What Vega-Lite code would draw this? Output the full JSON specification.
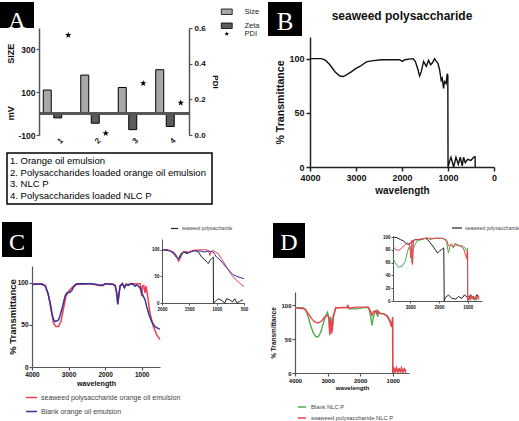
{
"$schema": "https://vega.github.io/schema/vega-lite/v6.json",
"autosize": {"type": "pad"},
"padding": 0,
"background": "white",
"config": {
 "font": "Liberation Sans",
 "view": {"stroke": null},
 "axis": {"grid": false, "labelFontWeight": "bold", "titleFontWeight": "bold", "labelColor": "#111", "titleColor": "#111", "domainColor": "#555", "tickColor": "#555", "labelFlush": false, "labelOverlap": false, "domainWidth": 1.2, "tickWidth": 1.2},
 "legend": {"padding": 0, "labelColor": "#333"},
 "title": {"font": "Liberation Sans", "fontWeight": "bold", "color": "#111"}
},
"datasets": {
 "seaweedB": [{"x":4000,"y":100},{"x":3747,"y":100},{"x":3660,"y":98.4},{"x":3567,"y":94.4},{"x":3458,"y":88},{"x":3350,"y":84},{"x":3278,"y":83.5},{"x":3206,"y":85},{"x":3097,"y":88},{"x":3000,"y":91},{"x":2917,"y":92.8},{"x":2773,"y":97},{"x":2664,"y":98},{"x":2448,"y":99},{"x":2231,"y":99},{"x":2051,"y":99},{"x":1993,"y":97.5},{"x":1942,"y":99},{"x":1762,"y":100},{"x":1711,"y":97.5},{"x":1653,"y":90},{"x":1617,"y":84},{"x":1581,"y":88},{"x":1531,"y":97.5},{"x":1473,"y":93},{"x":1422,"y":98.4},{"x":1379,"y":94.4},{"x":1343,"y":96},{"x":1292,"y":100},{"x":1256,"y":97.5},{"x":1220,"y":96},{"x":1184,"y":90},{"x":1148,"y":80},{"x":1126,"y":82},{"x":1097,"y":72.6},{"x":1076,"y":79},{"x":1040,"y":77},{"x":1018,"y":86},{"x":1004,"y":84.5},{"x":999,"y":0},{"x":968,"y":5},{"x":935,"y":9},{"x":877,"y":0},{"x":827,"y":9},{"x":776,"y":2.5},{"x":733,"y":9},{"x":690,"y":1},{"x":661,"y":9},{"x":624,"y":4},{"x":574,"y":7},{"x":502,"y":6},{"x":444,"y":9},{"x":412,"y":9.5},{"x":408,"y":0}],
 "cRed": [{"x":4000,"y":99},{"x":3800,"y":98.5},{"x":3636,"y":97},{"x":3545,"y":84},{"x":3473,"y":66},{"x":3409,"y":52},{"x":3345,"y":48},{"x":3273,"y":48},{"x":3209,"y":54},{"x":3136,"y":70},{"x":3073,"y":84},{"x":3000,"y":90},{"x":2909,"y":94},{"x":2818,"y":98},{"x":2364,"y":99},{"x":2182,"y":96.8},{"x":2045,"y":96.8},{"x":2000,"y":99},{"x":1800,"y":98.5},{"x":1727,"y":97},{"x":1682,"y":86},{"x":1655,"y":74},{"x":1627,"y":86},{"x":1591,"y":97},{"x":1527,"y":99},{"x":1473,"y":95},{"x":1427,"y":98.5},{"x":1364,"y":98},{"x":1291,"y":99},{"x":1136,"y":99},{"x":1045,"y":99},{"x":1018,"y":92},{"x":1000,"y":84},{"x":982,"y":96},{"x":945,"y":97},{"x":909,"y":88},{"x":882,"y":96},{"x":836,"y":84},{"x":773,"y":64},{"x":682,"y":48},{"x":591,"y":38.5},{"x":500,"y":32.5}],
 "cBlue": [{"x":4000,"y":98},{"x":3727,"y":98.8},{"x":3636,"y":96},{"x":3564,"y":88},{"x":3500,"y":76},{"x":3455,"y":64},{"x":3409,"y":56},{"x":3364,"y":54},{"x":3273,"y":56},{"x":3227,"y":62},{"x":3164,"y":72},{"x":3091,"y":85},{"x":3045,"y":88},{"x":2955,"y":89},{"x":2909,"y":91},{"x":2864,"y":95},{"x":2773,"y":99},{"x":2364,"y":99},{"x":2182,"y":97.6},{"x":2091,"y":97},{"x":2000,"y":99},{"x":1800,"y":98.4},{"x":1727,"y":96.8},{"x":1682,"y":88},{"x":1655,"y":75},{"x":1627,"y":84},{"x":1591,"y":96},{"x":1527,"y":99},{"x":1473,"y":94},{"x":1427,"y":98},{"x":1364,"y":97},{"x":1291,"y":99},{"x":1227,"y":98},{"x":1182,"y":96},{"x":1136,"y":97.6},{"x":1091,"y":96},{"x":1045,"y":94},{"x":1000,"y":88},{"x":955,"y":84},{"x":909,"y":80},{"x":864,"y":72},{"x":800,"y":62},{"x":727,"y":54},{"x":636,"y":48},{"x":545,"y":45.6},{"x":500,"y":45}],
 "ciBlack": [{"x":2000,"y":100},{"x":1909,"y":100},{"x":1849,"y":97.5},{"x":1788,"y":92.5},{"x":1740,"y":86},{"x":1697,"y":83},{"x":1655,"y":92.5},{"x":1607,"y":95.6},{"x":1546,"y":92.5},{"x":1486,"y":95.6},{"x":1395,"y":98.8},{"x":1335,"y":95.6},{"x":1274,"y":86},{"x":1232,"y":83},{"x":1183,"y":77},{"x":1153,"y":74},{"x":1123,"y":80},{"x":1093,"y":83},{"x":1062,"y":86},{"x":1058,"y":0},{"x":1002,"y":5},{"x":972,"y":8},{"x":911,"y":5},{"x":850,"y":0},{"x":820,"y":8},{"x":760,"y":6},{"x":711,"y":2},{"x":669,"y":8},{"x":627,"y":0},{"x":578,"y":3},{"x":518,"y":6}],
 "ciRed": [{"x":2000,"y":100},{"x":1879,"y":99},{"x":1788,"y":96},{"x":1728,"y":86},{"x":1697,"y":77},{"x":1667,"y":83},{"x":1607,"y":97.5},{"x":1516,"y":95.6},{"x":1425,"y":99},{"x":1244,"y":100},{"x":1153,"y":99},{"x":1123,"y":89},{"x":1105,"y":95.6},{"x":1074,"y":99},{"x":1032,"y":96},{"x":972,"y":92.5},{"x":911,"y":83},{"x":820,"y":67.5},{"x":729,"y":53},{"x":639,"y":42.5},{"x":518,"y":32},{"x":500,"y":31}],
 "ciBlue": [{"x":2000,"y":100},{"x":1849,"y":97.5},{"x":1758,"y":92.5},{"x":1697,"y":81},{"x":1667,"y":86},{"x":1607,"y":95.6},{"x":1516,"y":94},{"x":1425,"y":97.5},{"x":1304,"y":97.5},{"x":1214,"y":95.6},{"x":1153,"y":97.5},{"x":1062,"y":95.6},{"x":1002,"y":86},{"x":941,"y":81},{"x":881,"y":74},{"x":790,"y":62.5},{"x":699,"y":53},{"x":608,"y":49},{"x":500,"y":45.6}],
 "dGreen": [{"x":4000,"y":96.6},{"x":3746,"y":96.6},{"x":3664,"y":92.7},{"x":3593,"y":83},{"x":3522,"y":70.7},{"x":3440,"y":59.5},{"x":3359,"y":53.7},{"x":3288,"y":53.7},{"x":3217,"y":59.5},{"x":3135,"y":73},{"x":3054,"y":85.4},{"x":3003,"y":90},{"x":2962,"y":83},{"x":2932,"y":61},{"x":2902,"y":83},{"x":2881,"y":73},{"x":2850,"y":63},{"x":2820,"y":83},{"x":2749,"y":96.6},{"x":2423,"y":97.6},{"x":2373,"y":98.5},{"x":2340,"y":95},{"x":2102,"y":95},{"x":1797,"y":97.6},{"x":1726,"y":95},{"x":1675,"y":83},{"x":1634,"y":70.7},{"x":1593,"y":83},{"x":1543,"y":90.7},{"x":1492,"y":92.7},{"x":1461,"y":83},{"x":1431,"y":90.7},{"x":1370,"y":88},{"x":1288,"y":88},{"x":1207,"y":85.4},{"x":1136,"y":83},{"x":1085,"y":78},{"x":1034,"y":73},{"x":1003,"y":75.6},{"x":999,"y":0},{"x":960,"y":6},{"x":920,"y":1},{"x":880,"y":7},{"x":840,"y":2},{"x":800,"y":6},{"x":760,"y":1},{"x":720,"y":5},{"x":680,"y":2},{"x":640,"y":6},{"x":600,"y":3}],
 "dRed": [{"x":4000,"y":96.6},{"x":3695,"y":95},{"x":3593,"y":88},{"x":3491,"y":80.5},{"x":3390,"y":75.6},{"x":3288,"y":74},{"x":3186,"y":77},{"x":3085,"y":83},{"x":3003,"y":85.4},{"x":2962,"y":83},{"x":2932,"y":56},{"x":2902,"y":80},{"x":2871,"y":58.5},{"x":2830,"y":83},{"x":2749,"y":96.6},{"x":2400,"y":97},{"x":2373,"y":100},{"x":2340,"y":96},{"x":2102,"y":97.6},{"x":1746,"y":97.6},{"x":1675,"y":90.7},{"x":1634,"y":85.4},{"x":1593,"y":90.7},{"x":1543,"y":92},{"x":1492,"y":88},{"x":1461,"y":92},{"x":1390,"y":88},{"x":1288,"y":88},{"x":1187,"y":85.4},{"x":1085,"y":76},{"x":1034,"y":68},{"x":1003,"y":83},{"x":999,"y":0},{"x":970,"y":7},{"x":930,"y":2},{"x":890,"y":8},{"x":850,"y":1},{"x":810,"y":6},{"x":770,"y":2},{"x":730,"y":8},{"x":690,"y":1},{"x":650,"y":6},{"x":610,"y":2},{"x":600,"y":5}],
 "diBlack": [{"x":3600,"y":100},{"x":3462,"y":99},{"x":3347,"y":96},{"x":3231,"y":94},{"x":3139,"y":89.5},{"x":3058,"y":88.4},{"x":2942,"y":92.6},{"x":2827,"y":96},{"x":2653,"y":96},{"x":2480,"y":98},{"x":2399,"y":96},{"x":2306,"y":91},{"x":2214,"y":86},{"x":2133,"y":80.5},{"x":2052,"y":75},{"x":1983,"y":77.8},{"x":1902,"y":80.5},{"x":1832,"y":83},{"x":1815,"y":0},{"x":1780,"y":5},{"x":1665,"y":9.5},{"x":1549,"y":4},{"x":1410,"y":3},{"x":1318,"y":7},{"x":1202,"y":4},{"x":1110,"y":9.5},{"x":971,"y":4},{"x":900,"y":10},{"x":856,"y":7},{"x":740,"y":4},{"x":680,"y":10},{"x":624,"y":7}],
 "diGreen": [{"x":3600,"y":67},{"x":3520,"y":59.5},{"x":3405,"y":52.6},{"x":3289,"y":54},{"x":3173,"y":62},{"x":3092,"y":78},{"x":3023,"y":86},{"x":2977,"y":80.5},{"x":2942,"y":59.5},{"x":2907,"y":80.5},{"x":2827,"y":88},{"x":2769,"y":94},{"x":2595,"y":96},{"x":2422,"y":99},{"x":2306,"y":96},{"x":2133,"y":98},{"x":1902,"y":98},{"x":1786,"y":96},{"x":1728,"y":91},{"x":1670,"y":75},{"x":1613,"y":86},{"x":1555,"y":89.5},{"x":1497,"y":83},{"x":1439,"y":88},{"x":1324,"y":86},{"x":1208,"y":87},{"x":1092,"y":83},{"x":1034,"y":78},{"x":1003,"y":83},{"x":999,"y":0},{"x":950,"y":6},{"x":900,"y":1},{"x":850,"y":7},{"x":800,"y":2},{"x":750,"y":6},{"x":700,"y":1},{"x":650,"y":5},{"x":600,"y":2}],
 "diRed": [{"x":3600,"y":86},{"x":3520,"y":80.5},{"x":3405,"y":79},{"x":3289,"y":83},{"x":3173,"y":88.4},{"x":3092,"y":91},{"x":3023,"y":88},{"x":2977,"y":67},{"x":2942,"y":95},{"x":2919,"y":57},{"x":2884,"y":95},{"x":2769,"y":96},{"x":2422,"y":98},{"x":2191,"y":98},{"x":1844,"y":98},{"x":1728,"y":95},{"x":1670,"y":86},{"x":1613,"y":88},{"x":1497,"y":84},{"x":1439,"y":90},{"x":1266,"y":86},{"x":1150,"y":83},{"x":1058,"y":70},{"x":1040,"y":66},{"x":1012,"y":78},{"x":1000,"y":76},{"x":997,"y":0},{"x":960,"y":8},{"x":920,"y":2},{"x":880,"y":9},{"x":840,"y":3},{"x":800,"y":8},{"x":760,"y":1},{"x":720,"y":7},{"x":680,"y":3},{"x":640,"y":9},{"x":600,"y":4}]
},
"vconcat": [
 {"hconcat": [{"vconcat": [{"width":1,"height":1,"data":{"values":[]},"mark":{"type":"text","text":""}}]},
  {"vconcat": [{"vconcat": [{"width":1,"height":1,"data":{"values":[]},"mark":{"type":"text","text":""}}]},
   {"width":34,"height":26,"view":{"fill":"black","stroke":null},"data":{"values":[{"t":"A","c":0.5}]},"mark":{"type":"text","color":"white","font":"Liberation Serif","fontSize":24,"align":"center","baseline":"middle","dy":6},"encoding":{"x":{"field":"c","type":"quantitative","scale":{"domain":[0,1]},"axis":null},"y":{"field":"c","type":"quantitative","scale":{"domain":[0,1]},"axis":null},"text":{"field":"t"}}}
  ], "spacing": 2, "bounds": "flush"}], "spacing": 0, "bounds": "flush"},

 {"hconcat": [{"vconcat": [{"width":1,"height":1,"data":{"values":[]},"mark":{"type":"text","text":""}}]},
  {"vconcat": [{"vconcat": [{"width":1,"height":1,"data":{"values":[]},"mark":{"type":"text","text":""}}]},
   {
    "width":150,"height":107,
    "data":{"values":[
     {"g":"1","s":"Size","v":110},{"g":"1","s":"Zeta","v":-20},
     {"g":"2","s":"Size","v":180},{"g":"2","s":"Zeta","v":-45},
     {"g":"3","s":"Size","v":122},{"g":"3","s":"Zeta","v":-75},
     {"g":"4","s":"Size","v":205},{"g":"4","s":"Zeta","v":-60},
     {"g":"1","s":"PDI","p":0.56},{"g":"2","s":"PDI","p":0.01},{"g":"3","s":"PDI","p":0.29},{"g":"4","s":"PDI","p":0.18}
    ]},
    "layer":[
     {"layer":[
      {"transform":[{"filter":"datum.s !== 'PDI'"}],
       "mark":{"type":"bar","stroke":"black","strokeWidth":1},
       "encoding":{
        "x":{"field":"g","type":"nominal","scale":{"paddingInner":0.16,"paddingOuter":0.08},"axis":{"title":null,"domain":false,"ticks":false,"labelAngle":-45,"labelAlign":"center","labelBaseline":"top","labelFontSize":8,"labelPadding":3,"labelColor":"#222"}},
        "xOffset":{"field":"s","scale":{"domain":["Size","Zeta","PDI"],"paddingInner":0.24,"paddingOuter":0.12}},
        "y":{"field":"v","type":"quantitative","scale":{"domain":[-100,400],"nice":false},"axis":{"values":[-100,0,100,200,300],"labelExpr":"'' + datum.value","title":"mV\u00a0\u00a0\u00a0\u00a0\u00a0\u00a0\u00a0\u00a0\u00a0\u00a0\u00a0\u00a0\u00a0\u00a0\u00a0\u00a0\u00a0SIZE","titleFontSize":9,"titlePadding":2,"labelFontSize":8.5,"tickSize":3,"labelPadding":1,"domainWidth":1.5}},
        "fill":{"field":"s","scale":{"domain":["Size","Zeta"],"range":["#a8a8a8","#5c5c5c"]},"legend":{"title":null,"orient":"none","legendX":184,"legendY":-20,"symbolType":"M-2,-1L2,-1L2,1L-2,1Z","symbolSize":30,"symbolStrokeColor":"black","symbolStrokeWidth":0.8,"labelFontSize":7.5,"labelOffset":14,"rowPadding":4,"padding":0,"labelColor":"#222"}}
       }},
      {"mark":{"type":"rule","color":"#555","strokeWidth":1.5},"encoding":{"y":{"datum":0,"type":"quantitative"}}}
     ]},
     {"transform":[{"filter":"datum.s === 'PDI'"}],
      "mark":{"type":"point","filled":true,"color":"black","size":45,"opacity":1},
      "encoding":{
       "x":{"field":"g","type":"nominal"},
       "xOffset":{"field":"s","scale":{"domain":["Size","Zeta","PDI"]}},
       "y":{"field":"p","type":"quantitative","scale":{"domain":[0,0.6],"nice":false},"axis":{"orient":"right","values":[0,0.2,0.4,0.6],"format":".1f","title":"PDI","titleFontSize":8,"titlePadding":5,"labelFontSize":8,"tickSize":3,"labelPadding":2,"domainWidth":1.5}},
       "shape":{"field":"s","scale":{"domain":["PDI"],"range":["M0,-1L0.235,-0.324L0.951,-0.309L0.38,0.124L0.588,0.809L0,0.4L-0.588,0.809L-0.38,0.124L-0.951,-0.309L-0.235,-0.324Z"]},"legend":{"title":null,"orient":"none","legendX":184,"legendY":2,"symbolSize":25,"symbolFillColor":"black","labelFontSize":7.5,"labelOffset":14,"padding":0,"labelColor":"#222"}}
      }}
    ],
    "resolve":{"scale":{"y":"independent"}}
   }
  ], "spacing": 28, "bounds": "flush", "resolve": {"scale": {"fill": "independent", "shape": "independent"}, "legend": {"fill": "independent", "shape": "independent"}}}],
  "spacing": 39, "bounds": "flush", "resolve": {"scale": {"fill": "independent", "shape": "independent"}, "legend": {"fill": "independent", "shape": "independent"}}},

 {"hconcat": [{"vconcat": [{"width":1,"height":1,"data":{"values":[]},"mark":{"type":"text","text":""}}]},
  {"vconcat": [{"vconcat": [{"width":1,"height":1,"data":{"values":[]},"mark":{"type":"text","text":""}}]},
   {"width":205,"height":51,"view":{"stroke":"black","strokeWidth":1.5},
    "data":{"values":[{"i":1,"t":"1. Orange oil emulsion"},{"i":2,"t":"2. Polysaccharides loaded orange oil emulsion"},{"i":3,"t":"3. NLC P"},{"i":4,"t":"4. Polysaccharides loaded NLC P"}]},
    "mark":{"type":"text","align":"left","baseline":"middle","fontSize":9.5,"dx":3,"color":"black"},
    "encoding":{"y":{"field":"i","type":"ordinal","scale":{"padding":0.68},"axis":null},"x":{"datum":0,"type":"quantitative","scale":{"domain":[0,1]},"axis":null},"text":{"field":"t"}}}
  ], "spacing": 153, "bounds": "flush"}], "spacing": 7, "bounds": "flush"},

 {"hconcat": [{"vconcat": [{"width":1,"height":1,"data":{"values":[]},"mark":{"type":"text","text":""}}]},
  {"vconcat": [{"vconcat": [{"width":1,"height":1,"data":{"values":[]},"mark":{"type":"text","text":""}}]},
   {"width":34,"height":34,"view":{"fill":"black","stroke":null},"data":{"values":[{"t":"B","c":0.5}]},"mark":{"type":"text","color":"white","font":"Liberation Serif","fontSize":25,"align":"center","baseline":"middle","dy":3},"encoding":{"x":{"field":"c","type":"quantitative","scale":{"domain":[0,1]},"axis":null},"y":{"field":"c","type":"quantitative","scale":{"domain":[0,1]},"axis":null},"text":{"field":"t"}}}
  ], "spacing": 2, "bounds": "flush"}], "spacing": 268, "bounds": "flush"},

 {"hconcat": [{"vconcat": [{"width":1,"height":1,"data":{"values":[]},"mark":{"type":"text","text":""}}]},
  {"vconcat": [{"vconcat": [{"width":1,"height":1,"data":{"values":[]},"mark":{"type":"text","text":""}}]},
   {
    "width":184,"height":130,
    "title":{"text":"seaweed polysaccharide","fontSize":12,"fontWeight":"bold","offset":14,"color":"#111"},
    "data":{"name":"seaweedB"},
    "mark":{"type":"line","color":"#111","strokeWidth":1.4},
    "encoding":{
     "x":{"field":"x","type":"quantitative","scale":{"domain":[4000,0],"nice":false},"axis":{"values":[4000,3000,2000,1000,0],"format":"d","title":"wavelength","titleFontSize":10,"titlePadding":3,"labelFontSize":9,"tickSize":4,"labelPadding":2,"domainWidth":1.5,"tickWidth":1.5,"domainColor":"#222","tickColor":"#222"}},
     "y":{"field":"y","type":"quantitative","scale":{"domain":[0,120],"nice":false},"axis":{"values":[0,50,100],"title":"% Transmittance","titleFontSize":10.6,"titlePadding":3,"labelFontSize":9,"tickSize":4,"labelPadding":2,"domainWidth":1.5,"tickWidth":1.5,"domainColor":"#222","tickColor":"#222"}}
    }
   }
  ], "spacing": 37, "bounds": "flush"}], "spacing": 310, "bounds": "flush"},

 {"hconcat": [{"vconcat": [{"width":1,"height":1,"data":{"values":[]},"mark":{"type":"text","text":""}}]},
  {"vconcat": [{"vconcat": [{"width":1,"height":1,"data":{"values":[]},"mark":{"type":"text","text":""}}]},
   {"width":30,"height":35,"view":{"fill":"black","stroke":null},"data":{"values":[{"t":"C","c":0.5}]},"mark":{"type":"text","color":"white","font":"Liberation Serif","fontSize":24,"align":"center","baseline":"middle","dy":3},"encoding":{"x":{"field":"c","type":"quantitative","scale":{"domain":[0,1]},"axis":null},"y":{"field":"c","type":"quantitative","scale":{"domain":[0,1]},"axis":null},"text":{"field":"t"}}}
  ], "spacing": 222, "bounds": "flush"}], "spacing": 2, "bounds": "flush"},

 {"hconcat": [{"vconcat": [{"width":1,"height":1,"data":{"values":[]},"mark":{"type":"text","text":""}}]},
  {"vconcat": [{"vconcat": [{"width":1,"height":1,"data":{"values":[]},"mark":{"type":"text","text":""}}]},
   {
    "width":128,"height":101,
    "encoding":{
     "x":{"field":"x","type":"quantitative","scale":{"domain":[4000,500],"nice":false},"axis":{"values":[4000,3000,2000,1000],"format":"d","title":"wavelength","titleFontSize":7.2,"titlePadding":2,"labelFontSize":6.5,"tickSize":3,"labelPadding":1}},
     "y":{"field":"y","type":"quantitative","scale":{"domain":[0,120],"nice":false},"axis":{"values":[0,50,100],"title":"% Transmittance","titleFontSize":9.5,"titlePadding":0,"labelFontSize":6.5,"tickSize":3,"labelPadding":1}}
    },
    "layer":[
     {"data":{"name":"cRed"},"mark":{"type":"line","strokeWidth":1.5},"encoding":{"color":{"datum":"seaweed polysaccharide orange oil emulsion","scale":{"domain":["seaweed polysaccharide orange oil emulsion","Blank orange oil emulsion"],"range":["#f23c50","#333399"]},"legend":{"title":null,"orient":"none","legendX":-7,"legendY":125,"symbolType":"stroke","symbolSize":121,"symbolStrokeWidth":1.5,"labelFontSize":7,"labelOffset":3,"rowPadding":4,"padding":0,"labelColor":"#444","labelFontWeight":"normal"}}}},
     {"data":{"name":"cBlue"},"mark":{"type":"line","strokeWidth":1.5},"encoding":{"color":{"datum":"Blank orange oil emulsion"}}}
    ]
   }
  ], "spacing": 266, "bounds": "flush", "resolve": {"scale": {"color": "independent"}, "legend": {"color": "independent"}}}],
  "spacing": 32, "bounds": "flush", "resolve": {"scale": {"color": "independent"}, "legend": {"color": "independent"}}},

 {"hconcat": [{"vconcat": [{"width":1,"height":1,"data":{"values":[]},"mark":{"type":"text","text":""}}]},
  {"vconcat": [{"vconcat": [{"width":1,"height":1,"data":{"values":[]},"mark":{"type":"text","text":""}}]},
   {
    "width":82,"height":64,
    "encoding":{
     "x":{"field":"x","type":"quantitative","scale":{"domain":[2000,500],"nice":false},"axis":{"values":[2000,1500,1000,500],"format":"d","title":null,"labelFontSize":4.5,"tickSize":2,"labelPadding":1,"domainWidth":1,"tickWidth":1}},
     "y":{"field":"y","type":"quantitative","scale":{"domain":[0,120],"nice":false},"axis":{"values":[0,50,100],"title":null,"labelFontSize":4.5,"tickSize":2,"labelPadding":1,"domainWidth":1,"tickWidth":1}}
    },
    "layer":[
     {"data":{"name":"ciBlack"},"mark":{"type":"line","strokeWidth":1},"encoding":{"color":{"datum":"seaweed polysaccharide","scale":{"domain":["seaweed polysaccharide","seaweed polysaccharide orange oil emulsion","Blank orange oil emulsion"],"range":["#222222","#f23c50","#333399"]},"legend":{"values":["seaweed polysaccharide"],"title":null,"orient":"none","legendX":8,"legendY":-15,"symbolType":"stroke","symbolSize":49,"symbolStrokeWidth":1.2,"labelFontSize":4.6,"labelOffset":3,"padding":0,"labelColor":"#444"}}}},
     {"data":{"name":"ciRed"},"mark":{"type":"line","strokeWidth":1},"encoding":{"color":{"datum":"seaweed polysaccharide orange oil emulsion"}}},
     {"data":{"name":"ciBlue"},"mark":{"type":"line","strokeWidth":1},"encoding":{"color":{"datum":"Blank orange oil emulsion"}}}
    ]
   }
  ], "spacing": 239, "bounds": "flush", "resolve": {"scale": {"color": "independent"}, "legend": {"color": "independent"}}}],
  "spacing": 162, "bounds": "flush", "resolve": {"scale": {"color": "independent"}, "legend": {"color": "independent"}}},

 {"hconcat": [{"vconcat": [{"width":1,"height":1,"data":{"values":[]},"mark":{"type":"text","text":""}}]},
  {"vconcat": [{"vconcat": [{"width":1,"height":1,"data":{"values":[]},"mark":{"type":"text","text":""}}]},
   {"width":32,"height":35,"view":{"fill":"black","stroke":null},"data":{"values":[{"t":"D","c":0.5}]},"mark":{"type":"text","color":"white","font":"Liberation Serif","fontSize":24,"align":"center","baseline":"middle","dy":2},"encoding":{"x":{"field":"c","type":"quantitative","scale":{"domain":[0,1]},"axis":null},"y":{"field":"c","type":"quantitative","scale":{"domain":[0,1]},"axis":null},"text":{"field":"t"}}}
  ], "spacing": 223, "bounds": "flush"}], "spacing": 273, "bounds": "flush"},

 {"hconcat": [{"vconcat": [{"width":1,"height":1,"data":{"values":[]},"mark":{"type":"text","text":""}}]},
  {"vconcat": [{"vconcat": [{"width":1,"height":1,"data":{"values":[]},"mark":{"type":"text","text":""}}]},
   {
    "width":89,"height":64,
    "encoding":{
     "x":{"field":"x","type":"quantitative","scale":{"domain":[3600,500],"nice":false},"axis":{"values":[3000,2000,1000],"format":"d","title":null,"labelFontSize":4.5,"tickSize":2,"labelPadding":1,"domainWidth":1,"tickWidth":1}},
     "y":{"field":"y","type":"quantitative","scale":{"domain":[0,100],"nice":false},"axis":{"values":[0,20,40,60,80,100],"title":null,"labelFontSize":4.5,"tickSize":2,"labelPadding":1,"domainWidth":1,"tickWidth":1}}
    },
    "layer":[
     {"data":{"name":"diBlack"},"mark":{"type":"line","strokeWidth":1},"encoding":{"color":{"datum":"seaweed polysaccharide","scale":{"domain":["seaweed polysaccharide","Blank NLC P","seaweed polysaccharide NLC P"],"range":["#222222","#4daf4a","#f23c50"]},"legend":{"values":["seaweed polysaccharide"],"title":null,"orient":"none","legendX":58,"legendY":-15,"symbolType":"stroke","symbolSize":100,"symbolStrokeWidth":1.2,"labelFontSize":5,"labelOffset":2,"padding":0,"labelColor":"#444"}}}},
     {"data":{"name":"diGreen"},"mark":{"type":"line","strokeWidth":1},"encoding":{"color":{"datum":"Blank NLC P"}}},
     {"data":{"name":"diRed"},"mark":{"type":"line","strokeWidth":1},"encoding":{"color":{"datum":"seaweed polysaccharide NLC P"}}}
    ]
   }
  ], "spacing": 237, "bounds": "flush", "resolve": {"scale": {"color": "independent"}, "legend": {"color": "independent"}}}],
  "spacing": 393, "bounds": "flush", "resolve": {"scale": {"color": "independent"}, "legend": {"color": "independent"}}},

 {"hconcat": [{"vconcat": [{"width":1,"height":1,"data":{"values":[]},"mark":{"type":"text","text":""}}]},
  {"vconcat": [{"vconcat": [{"width":1,"height":1,"data":{"values":[]},"mark":{"type":"text","text":""}}]},
   {
    "width":114,"height":81,
    "encoding":{
     "x":{"field":"x","type":"quantitative","scale":{"domain":[4000,500],"nice":false},"axis":{"values":[4000,3000,2000,1000],"format":"d","title":"wavelength","titleFontSize":6.2,"titlePadding":1,"labelFontSize":6,"tickSize":3,"labelPadding":1}},
     "y":{"field":"y","type":"quantitative","scale":{"domain":[0,120],"nice":false},"axis":{"values":[0,50,100],"title":"% Transmittance","titleFontSize":6.5,"titlePadding":4,"labelFontSize":6,"tickSize":3,"labelPadding":1}}
    },
    "layer":[
     {"data":{"name":"dGreen"},"mark":{"type":"line","strokeWidth":1.4},"encoding":{"color":{"datum":"Blank NLC P","scale":{"domain":["Blank NLC P","seaweed polysaccharide NLC P"],"range":["#4daf4a","#f23c50"]},"legend":{"title":null,"orient":"none","legendX":2,"legendY":110,"symbolType":"stroke","symbolSize":64,"symbolStrokeWidth":1.5,"labelFontSize":5.8,"labelOffset":4,"rowPadding":3,"padding":0,"labelColor":"#444","labelFontWeight":"normal"}}}},
     {"data":{"name":"dRed"},"mark":{"type":"line","strokeWidth":1.4},"encoding":{"color":{"datum":"seaweed polysaccharide NLC P"}}}
    ]
   }
  ], "spacing": 292, "bounds": "flush", "resolve": {"scale": {"color": "independent"}, "legend": {"color": "independent"}}}],
  "spacing": 295, "bounds": "flush", "resolve": {"scale": {"color": "independent"}, "legend": {"color": "independent"}}}
],
"spacing": 0,
"bounds": "flush",
"resolve": {"scale": {"color": "independent", "shape": "independent", "fill": "independent"}, "legend": {"color": "independent", "shape": "independent", "fill": "independent"}}
}
